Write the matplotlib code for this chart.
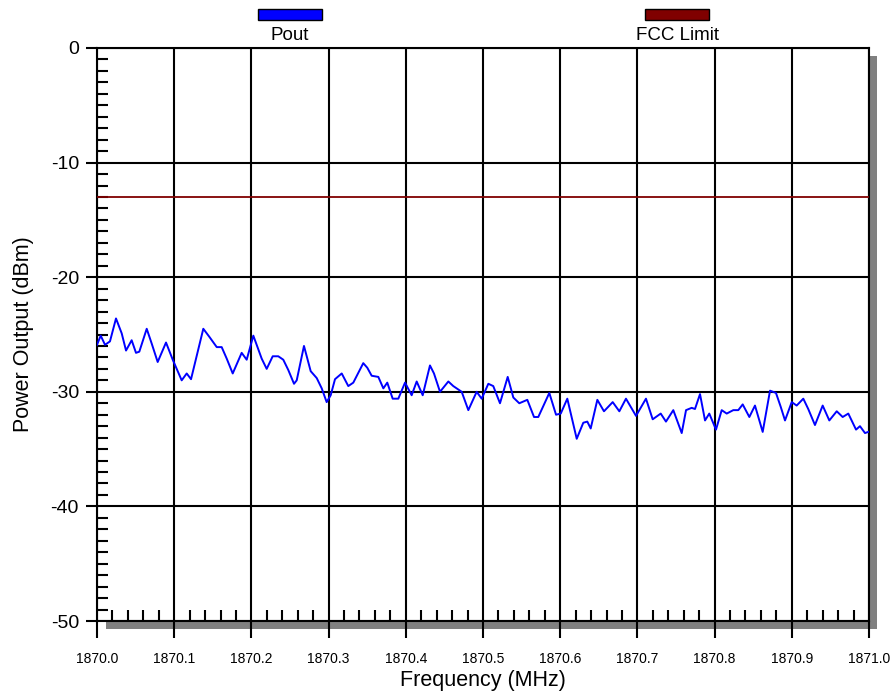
import matplotlib
matplotlib.use("Agg")
import matplotlib.pyplot as plt
from matplotlib.patches import Rectangle
from matplotlib.ticker import MultipleLocator, FormatStrFormatter

plt.rcParams['font.family'] = ['Liberation Sans', 'DejaVu Sans']
plt.rcParams['axes.unicode_minus'] = False

# offsets from 1870 MHz
freq_offset = [0.0000, 0.0048, 0.0104, 0.0168, 0.0246, 0.0320, 0.0376, 0.0449, 0.0505, 0.0548,
               0.0644, 0.0709, 0.0786, 0.0894, 0.0981, 0.1097, 0.1162, 0.1218, 0.1377, 0.1455,
               0.1551, 0.1615, 0.1680, 0.1758, 0.1874, 0.1939, 0.2025, 0.2133, 0.2198, 0.2276,
               0.2348, 0.2413, 0.2478, 0.2552, 0.2587, 0.2681, 0.2768, 0.2846, 0.2911, 0.2975,
               0.3027, 0.3083, 0.3170, 0.3255, 0.3320, 0.3449, 0.3501, 0.3558, 0.3644, 0.3709,
               0.3760, 0.3830, 0.3903, 0.3990, 0.4076, 0.4141, 0.4219, 0.4313, 0.4365, 0.4443,
               0.4551, 0.4615, 0.4724, 0.4810, 0.4918, 0.4983, 0.5069, 0.5133, 0.5220, 0.5320,
               0.5393, 0.5470, 0.5574, 0.5661, 0.5716, 0.5859, 0.5946, 0.6007, 0.6092, 0.6214,
               0.6299, 0.6351, 0.6395, 0.6481, 0.6567, 0.6680, 0.6766, 0.6852, 0.6982, 0.7111,
               0.7198, 0.7302, 0.7370, 0.7465, 0.7574, 0.7630, 0.7703, 0.7746, 0.7811, 0.7876,
               0.7931, 0.8018, 0.8092, 0.8157, 0.8242, 0.8307, 0.8364, 0.8450, 0.8523, 0.8623,
               0.8718, 0.8795, 0.8856, 0.8912, 0.8999, 0.9063, 0.9149, 0.9213, 0.9300, 0.9400,
               0.9486, 0.9582, 0.9659, 0.9732, 0.9832, 0.9883, 0.9948, 0.9991]
pout = [-25.9, -25.1, -25.9, -25.6, -23.6, -24.9, -26.4, -25.5, -26.6, -26.5,
        -24.5, -25.8, -27.4, -25.7, -27.2, -29.0, -28.4, -28.9, -24.5, -25.2,
        -26.1, -26.1, -27.1, -28.4, -26.6, -27.2, -25.1, -27.1, -28.0, -26.9,
        -26.9, -27.2, -28.1, -29.3, -29.0, -26.0, -28.2, -28.8, -29.7, -30.9,
        -30.3, -28.9, -28.4, -29.5, -29.2, -27.5, -27.9, -28.6, -28.7, -29.7,
        -29.2, -30.6, -30.6, -29.2, -30.3, -29.1, -30.3, -27.7, -28.4, -30.0,
        -29.1, -29.5, -30.0, -31.6, -30.0, -30.6, -29.3, -29.5, -31.0, -28.7,
        -30.5, -31.0, -30.7, -32.2, -32.2, -30.1, -32.0, -31.9, -30.6, -34.1,
        -32.7, -32.6, -33.2, -30.7, -31.7, -30.9, -31.7, -30.6, -32.1, -30.6,
        -32.4, -31.9, -32.6, -31.6, -33.6, -31.6, -31.4, -31.5, -30.2, -32.5,
        -31.9, -33.3, -31.6, -31.9, -31.6, -31.6, -31.1, -32.2, -31.2, -33.5,
        -29.9, -30.1, -31.3, -32.5, -30.9, -31.2, -30.6, -31.5, -32.9, -31.2,
        -32.5, -31.7, -32.2, -31.9, -33.3, -33.0, -33.6, -33.5]
freq = [1870.0 + f for f in freq_offset]
fcc_limit = -13.0
x_range = [1870.0, 1871.0]
series_names = ["Pout", "FCC Limit"]
series_colors = ["#0000FF", "#800000"]

W, H = 895, 692
fig = plt.figure(figsize=(W / 100, H / 100), dpi=100)
fig.patch.set_facecolor("white")
ax = fig.add_axes([97 / W, 1 - 621 / H, 772 / W, 573 / H])
ax.set_facecolor("white")

# drop shadow behind the plot area
shadow = Rectangle((106 / W, 1 - 629 / H), 771 / W, 573 / H, transform=fig.transFigure,
                   facecolor="#808080", edgecolor="none", zorder=-1)
fig.add_artist(shadow)

ax.plot(freq, pout, color=series_colors[0], linewidth=1.4, zorder=3)
ax.plot(x_range, [fcc_limit, fcc_limit], color=series_colors[1], linewidth=1.3, zorder=3)

ax.set_xlim(x_range)
ax.set_ylim(-50, 0)
ax.xaxis.set_major_locator(MultipleLocator(0.1))
ax.xaxis.set_minor_locator(MultipleLocator(0.02))
ax.yaxis.set_major_locator(MultipleLocator(10))
ax.yaxis.set_minor_locator(MultipleLocator(1))
ax.xaxis.set_major_formatter(FormatStrFormatter('%.1f'))
ax.grid(True, which='major', color='black', linewidth=1.5)
ax.set_axisbelow(True)
for s in ax.spines.values():
    s.set_linewidth(1.5)
    s.set_color('black')

ax.tick_params(axis='x', which='major', direction='out', length=12, width=1.5,
               labelsize=10, pad=10)
ax.tick_params(axis='y', which='major', direction='out', length=8, width=1.5,
               labelsize=14, pad=5)
ax.tick_params(which='minor', direction='in', length=8, width=1.5)

ax.set_xlabel("Frequency (MHz)", fontsize=15.5, labelpad=3)
ax.set_ylabel("Power Output (dBm)", fontsize=15.5, labelpad=12)

# legend across the top: swatch above the name
for name, col, cx in zip(series_names, series_colors, [290, 677]):
    fig.add_artist(Rectangle(((cx - 32) / W, 1 - 20 / H), 64 / W, 11 / H,
                             transform=fig.transFigure, facecolor=col,
                             edgecolor='black', linewidth=1))
    fig.text(cx / W, 1 - 36 / H, name, ha='center', va='center', fontsize=13.5)

fig.savefig("out.png", dpi=100)
